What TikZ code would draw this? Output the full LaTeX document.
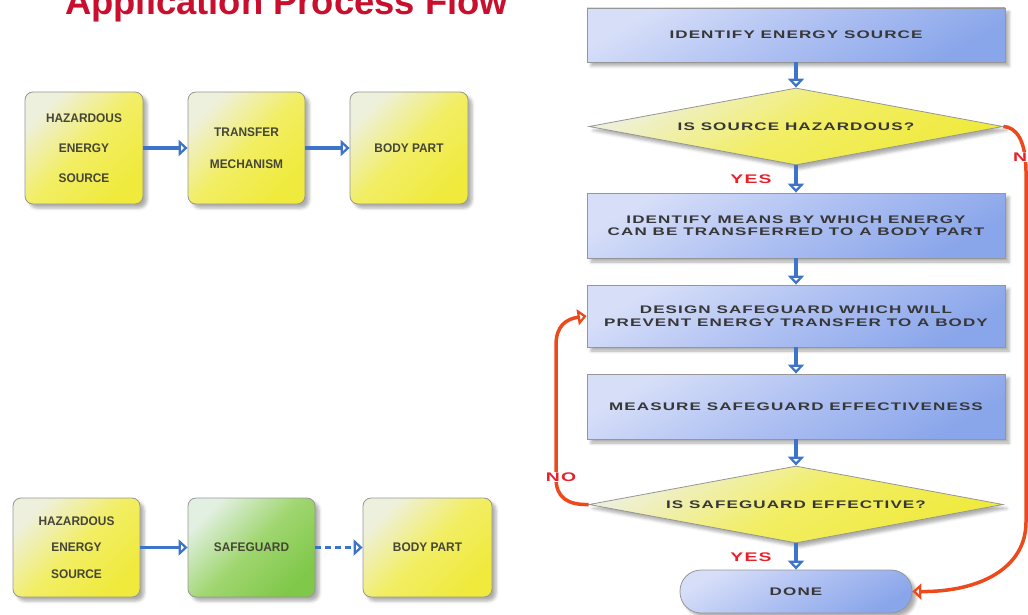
\documentclass[tikz,border=0pt]{standalone}
\usepackage{fontspec}
\setmainfont{Liberation Sans}
\newfontfamily\widefont{Liberation Sans}[FakeStretch=1.55,LetterSpace=10]
\newfontfamily\cardfont{Liberation Sans}[FakeStretch=0.95]
\usetikzlibrary{arrows.meta,shapes.geometric,shadows.blur}

\definecolor{flowblue}{RGB}{61,116,200}
\definecolor{loopred}{RGB}{236,74,28}
\definecolor{labelred}{RGB}{232,32,42}
\definecolor{titlered}{RGB}{200,16,46}
\definecolor{edgegray}{RGB}{150,150,150}
\definecolor{inkgray}{RGB}{55,55,55}
\definecolor{cardink}{RGB}{70,70,55}
\definecolor{stepL}{RGB}{214,222,248}
\definecolor{stepM}{RGB}{174,192,242}
\definecolor{stepD}{RGB}{138,166,234}
\definecolor{yelL}{RGB}{238,240,222}
\definecolor{yelM}{RGB}{242,238,100}
\definecolor{yelD}{RGB}{240,234,60}
\definecolor{grnL}{RGB}{226,240,226}
\definecolor{grnM}{RGB}{160,214,112}
\definecolor{grnD}{RGB}{128,200,74}

\tikzset{
  softshadow/.style={blur shadow={shadow xshift=4pt, shadow yshift=-4pt,
      shadow blur radius=3pt, shadow opacity=32}},
  card/.style={draw=edgegray, line width=0.8pt, rounded corners=8pt, inner sep=0pt,
      top color=yelL, bottom color=yelD, middle color=yelM, shading angle=45,
      softshadow, text=cardink, align=center,
      font=\cardfont\bfseries\fontsize{12.5}{30}\selectfont},
  guardcard/.style={card, top color=grnL, bottom color=grnD, middle color=grnM,
      shading angle=45},
  stepbox/.style={draw=edgegray, line width=0.8pt, inner sep=0pt,
      top color=stepL, bottom color=stepD, middle color=stepM, shading angle=30,
      softshadow, minimum width=418pt, text=inkgray, align=center,
      font=\widefont\bfseries\fontsize{11}{12.5}\selectfont},
  decision/.style={diamond, draw=edgegray, line width=0.8pt, inner sep=0pt,
      aspect=5.38, minimum width=414pt, minimum height=77pt,
      top color=yelL, bottom color=yelD, middle color=yelM, shading angle=30,
      softshadow, text=inkgray,
      font=\widefont\bfseries\fontsize{11}{12.5}\selectfont},
  terminal/.style={draw=edgegray, line width=0.8pt, inner sep=0pt,
      rounded corners=21pt, minimum width=232pt, minimum height=43pt,
      top color=stepL, bottom color=stepD, middle color=stepM, shading angle=30,
      softshadow, text=inkgray,
      font=\widefont\bfseries\fontsize{11}{12.5}\selectfont},
  flow/.style={draw=flowblue, line width=3.5pt,
      -{Triangle[open, length=9pt, width=16pt]}},
  loop/.style={draw=loopred, line width=3.5pt,
      -{Triangle[open, length=9pt, width=16pt]}},
  answer/.style={text=labelred, font=\widefont\bfseries\fontsize{12.5}{14}\selectfont,
      inner sep=1pt}
}

\begin{document}
\begin{tikzpicture}[x=1pt, y=-1pt]
\useasboundingbox (0,0) rectangle (1028,615);

% heading
\node[anchor=base west, inner sep=0pt, text=titlered,
      font=\bfseries\fontsize{36.4}{40}\selectfont] (title) at (65,15)
      {Application Process Flow};

% energy path without a safeguard
\node[card, minimum width=118pt, minimum height=112pt] (src1) at (84,148)
      {HAZARDOUS\\ENERGY\\SOURCE};
\node[card, minimum width=117pt, minimum height=112pt,
      font=\cardfont\bfseries\fontsize{12.5}{32}\selectfont] (mech) at (246.5,148)
      {TRANSFER\\MECHANISM};
\node[card, minimum width=118pt, minimum height=112pt] (body1) at (409,148)
      {BODY PART};
\draw[flow] (src1) -- (mech);
\draw[flow] (mech) -- (body1);

% energy path with a safeguard
\node[card, minimum width=127pt, minimum height=99pt,
      font=\cardfont\bfseries\fontsize{12.5}{26.5}\selectfont] (src2) at (76.5,547.5)
      {HAZARDOUS\\ENERGY\\SOURCE};
\node[guardcard, minimum width=127pt, minimum height=99pt] (guard) at (251.5,547.5)
      {SAFEGUARD};
\node[card, minimum width=129pt, minimum height=99pt] (body2) at (427.5,547.5)
      {BODY PART};
\draw[flow] (src2) -- (guard);
\draw[flow, dash pattern=on 6pt off 4pt] (guard) -- (body2);

% process flowchart
\node[stepbox, minimum height=54pt] (b1) at (796,35) {IDENTIFY ENERGY SOURCE};
\node[decision] (d1) at (796,126.5) {IS SOURCE HAZARDOUS?};
\node[stepbox, minimum height=65pt] (b2) at (796,225.5)
      {IDENTIFY MEANS BY WHICH ENERGY\\CAN BE TRANSFERRED TO A BODY PART};
\node[stepbox, minimum height=62pt] (b3) at (796,316)
      {DESIGN SAFEGUARD WHICH WILL\\PREVENT ENERGY TRANSFER TO A BODY};
\node[stepbox, minimum height=65pt] (b4) at (796,406.5)
      {MEASURE SAFEGUARD EFFECTIVENESS};
\node[decision] (d2) at (796,504.5) {IS SAFEGUARD EFFECTIVE?};
\node[terminal] (done) at (796,591.5) {DONE};

\draw[flow] (b1) -- (d1);
\draw[flow] (d1) -- (b2);
\draw[flow] (b2) -- (b3);
\draw[flow] (b3) -- (b4);
\draw[flow] (b4) -- (d2);
\draw[flow] (d2) -- (done);

% loop back when the safeguard fails
\draw[loop] (d2.west) .. controls (568,505) and (556,498) .. (556,478)
      -- (556,345) .. controls (556,326) and (566,319) .. (b3.west);
% skip when the source is not hazardous
\draw[loop] (d1.east) .. controls (1016,127) and (1026,140) .. (1026,172)
      -- (1026,522) .. controls (1026,568) and (980,592) .. (done.east);

\node[answer] (yes1) at (751,179) {YES};
\node[answer] (yes2) at (751,557) {YES};
\node[answer, fill=white] (no2) at (561,477) {NO};
\node[answer, fill=white, anchor=west] (no1) at (1012,157) {NO};
\end{tikzpicture}
\end{document}
